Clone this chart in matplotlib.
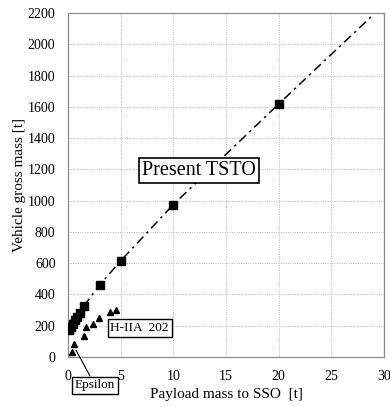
import matplotlib
matplotlib.use("Agg")
import matplotlib.pyplot as plt

# TSTO design points (payload [t], gross mass [t])
tsto_payload = [0.1, 0.3, 0.5, 0.7, 0.9, 1.1, 1.5, 3.0, 5.0, 10.0, 20.0]
tsto_mass = [175, 195, 213, 235, 258, 280, 325, 460, 615, 975, 1618]

# dash-dot trend through the TSTO points, extended
trend_payload = [1.5, 3.0, 5.0, 10.0, 20.0, 29.0]
trend_mass = [325, 460, 615, 975, 1618, 2190]

# existing launchers
exist_payload = [0.4, 0.55, 1.5, 1.7, 2.4, 2.9, 4.0, 4.6]
exist_mass = [35, 85, 135, 190, 210, 248, 285, 302]

x_ticks = [0, 5, 10, 15, 20, 25, 30]
y_ticks = [0, 200, 400, 600, 800, 1000, 1200, 1400, 1600, 1800, 2000, 2200]

plt.rcParams['font.family'] = ['Liberation Serif', 'DejaVu Serif']

fig = plt.figure(figsize=(3.9, 4.07), dpi=100)
ax = fig.add_axes([68/390, 1 - 357/407, (384-68)/390, (357-13)/407])

ax.plot(trend_payload, trend_mass, color='black', lw=1.1, dashes=(6, 3, 1.5, 3), zorder=2)
ax.plot(tsto_payload, tsto_mass, 's', color='black', ms=5.5, zorder=3)
ax.plot(exist_payload, exist_mass, '^', color='black', ms=5, zorder=3)

ax.set_xlim(0, 30)
ax.set_ylim(0, 2200)
ax.set_xticks(x_ticks)
ax.set_yticks(y_ticks)
ax.tick_params(length=0, labelsize=10, pad=9)
ax.grid(True, color='#c4c4c4', linestyle=(0, (1.2, 1.2)), linewidth=0.7)
ax.set_axisbelow(True)
for s in ax.spines.values():
    s.set_color('#8a8a8a')
    s.set_linewidth(0.9)

ax.set_xlabel('Payload mass to SSO  [t]', fontsize=11, labelpad=4)
ax.set_ylabel('Vehicle gross mass [t]', fontsize=11, labelpad=1)

bbox = dict(boxstyle='square,pad=0.2', fc='white', ec='black', lw=1.0)
ax.text(12.4, 1192, 'Present TSTO', fontsize=14.5, ha='center', va='center',
        bbox=dict(boxstyle='square,pad=0.15', fc='white', ec='black', lw=1.2), zorder=5)
ax.text(6.8, 185, 'H-IIA  202', fontsize=9.5, ha='center', va='center', bbox=bbox, zorder=5)
ax.annotate('Epsilon', xy=(0.75, 45), xytext=(2.56, -180), fontsize=9.5, ha='center', va='center',
            bbox=bbox, annotation_clip=False,
            arrowprops=dict(arrowstyle='-', color='black', lw=0.8, shrinkA=0, shrinkB=0), zorder=5)

fig.savefig('out.png', dpi=100)
